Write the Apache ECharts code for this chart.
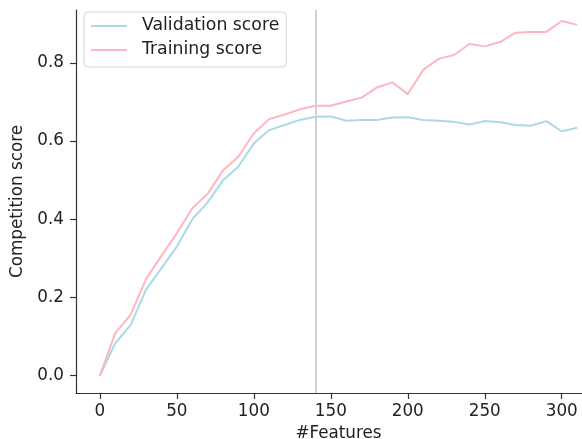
<!DOCTYPE html>
<html>
<head>
<meta charset="utf-8">
<script src="https://cdn.jsdelivr.net/npm/echarts@6/dist/echarts.min.js"></script>
<style>html,body{margin:0;padding:0;background:#fff}#c{width:582px;height:439px}</style>
</head>
<body>
<div id="c"></div>
<script>
const features = [0,10,20,30,40,50,60,70,80,90,100,110,120,130,140,150,160,170,180,190,200,210,220,230,240,250,260,270,280,290,300,310];
const validationScore = [0,0.083,0.130,0.220,0.275,0.330,0.400,0.443,0.500,0.535,0.594,0.628,0.641,0.654,0.662,0.663,0.652,0.654,0.654,0.660,0.661,0.654,0.652,0.649,0.642,0.651,0.648,0.641,0.639,0.651,0.625,0.634];
const trainingScore = [0,0.109,0.156,0.247,0.307,0.364,0.428,0.465,0.525,0.560,0.620,0.656,0.668,0.681,0.690,0.690,0.701,0.711,0.737,0.750,0.720,0.782,0.810,0.820,0.848,0.842,0.853,0.877,0.879,0.879,0.907,0.897];
const xTicks = [0,50,100,150,200,250,300];
const yTicks = [0,0.2,0.4,0.6,0.8];
const selectedFeatures = 140;

const chart = echarts.init(document.getElementById('c'));
const font = 'DejaVu Sans';
const textColor = '#222';
const lineColor = '#333';
const fs = 16.8;
chart.setOption({
  animation: false,
  textStyle: {fontFamily: font},
  grid: {left: 76, top: 10, width: 525, height: 383, containLabel: false, outerBoundsMode: 'none'},
  legend: {
    orient: 'vertical', left: 84, top: 12,
    padding: [5, 7, 8, 6],
    itemWidth: 36, itemHeight: 14, itemGap: 6,
    borderColor: '#d4d4d4', borderWidth: 1, borderRadius: 4,
    backgroundColor: 'rgba(255,255,255,0.8)',
    itemStyle: {opacity: 0},
    textStyle: {fontFamily: font, fontSize: 17.3, lineHeight: 18, color: textColor, padding: [0,0,0,10]},
    data: ['Validation score', 'Training score']
  },
  xAxis: {
    type: 'value', min: -15.5, max: 325.5,
    name: '#Features', nameLocation: 'middle', nameGap: 29,
    nameTextStyle: {fontFamily: font, fontSize: fs, color: textColor},
    axisLine: {show: true, onZero: false, lineStyle: {color: lineColor, width: 1.2}},
    axisTick: {show: true, length: 6, lineStyle: {color: lineColor, width: 1.2}, customValues: xTicks},
    axisLabel: {fontFamily: font, fontSize: fs, color: textColor, margin: 10, customValues: xTicks},
    splitLine: {show: false}
  },
  yAxis: {
    type: 'value', min: -0.0442, max: 0.935,
    name: 'Competition score', nameLocation: 'middle', nameGap: 37, nameRotate: 90,
    nameTextStyle: {fontFamily: font, fontSize: fs, color: textColor},
    axisLine: {show: true, onZero: false, lineStyle: {color: lineColor, width: 1.2}},
    axisTick: {show: true, length: 6, lineStyle: {color: lineColor, width: 1.2}, customValues: yTicks},
    axisLabel: {fontFamily: font, fontSize: fs, color: textColor, margin: 12, customValues: yTicks,
      formatter: v => v.toFixed(1)},
    splitLine: {show: false}
  },
  series: [
    {
      name: 'Validation score', type: 'line', symbol: 'none',
      data: features.map((x, i) => [x, validationScore[i]]),
      lineStyle: {color: '#add8e6', width: 2}, itemStyle: {color: '#add8e6'},
      markLine: {
        silent: true, symbol: 'none', label: {show: false},
        lineStyle: {color: '#d3d3d3', width: 2, type: 'solid'},
        data: [{xAxis: selectedFeatures}]
      }
    },
    {
      name: 'Training score', type: 'line', symbol: 'none',
      data: features.map((x, i) => [x, trainingScore[i]]),
      lineStyle: {color: '#ffb6c1', width: 2}, itemStyle: {color: '#ffb6c1'}
    }
  ]
});
</script>
</body>
</html>
